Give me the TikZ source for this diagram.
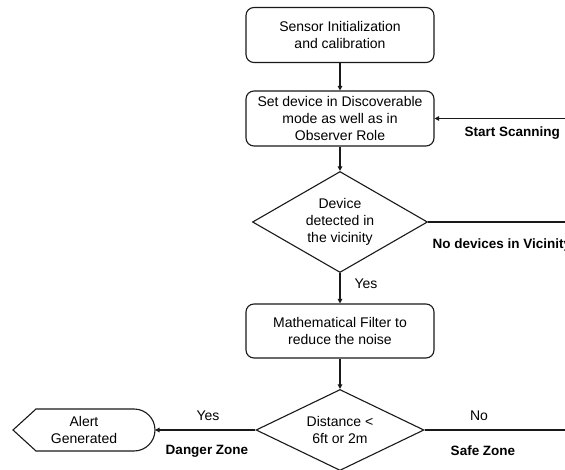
\documentclass[tikz,border=0pt]{standalone}
\usepackage{fontspec}
\setmainfont{Liberation Sans}
\usetikzlibrary{shapes.geometric,arrows.meta}
\begin{document}
\begin{tikzpicture}[x=1pt,y=-1pt,
  every node/.style={font=\fontsize{14}{17}\selectfont, text=black},
  procbox/.style={draw=black!90, rounded corners=8pt, minimum width=188pt, minimum height=55pt, align=center, line width=1.1pt, inner sep=0pt},
  decision/.style={draw=black!90, diamond, align=center, inner sep=0pt, line width=1.1pt},
  conn/.style={draw=black!90, line width=1.1pt},
  arr/.style={conn, -{Triangle[length=4.5pt,width=4.5pt]}},
  lbl/.style={font=\bfseries\fontsize{13.5}{16}\selectfont}
]
\path[use as bounding box, clip] (0,0) rectangle (565,470);
\fill[white] (0,0) rectangle (565,470);

\node[procbox] (b1) at (340,35) {Sensor Initialization\\and calibration};
\node[procbox] (b2) at (340,118.5) {Set device in Discoverable\\mode as well as in\\Observer Role};
\node[decision, minimum width=175pt, minimum height=101pt, aspect=1.73] (d1) at (340,222) {Device\\detected in\\the vicinity};
\node[procbox, minimum height=54pt] (b3) at (340,331) {Mathematical Filter to\\reduce the noise};
\node[decision, minimum width=168pt, minimum height=81pt, aspect=2.07] (d2) at (340,430) {Distance <\\6ft or 2m};

% Alert (display shape)
\draw[conn] (13,430) -- (36,409) -- (134,409) arc[start angle=90, end angle=-90, radius=21pt] -- (36,451) -- cycle;
\node[align=center] (alert) at (84,430) {Alert\\Generated};
\coordinate (alertE) at (155,430);

\coordinate (ssR) at (565,118.5);
\coordinate (d1R) at (565,222);
\coordinate (d2R) at (565,430);

\draw[arr] (b1) -- (b2);
\draw[arr] (b2) -- (d1);
\draw[arr] (d1) -- (b3);
\draw[arr] (b3) -- (d2);
\draw[arr] (ssR) -- (b2.east);
\draw[conn] (d1.east) -- (d1R);
\draw[conn] (d2.east) -- (d2R);
\draw[arr] (d2.west) -- (alertE);

\node[lbl, anchor=west] (lss) at (461,133) {Start Scanning};
\node[lbl, anchor=west] (lnd) at (429,245) {No devices in Vicinity};
\node[anchor=west] (ly1) at (351,284) {Yes};
\node (ly2) at (208,416) {Yes};
\node[lbl] (ldz) at (207,451) {Danger Zone};
\node (lno) at (479,416) {No};
\node[lbl] (lsz) at (483,451) {Safe Zone};
\end{tikzpicture}
\end{document}
